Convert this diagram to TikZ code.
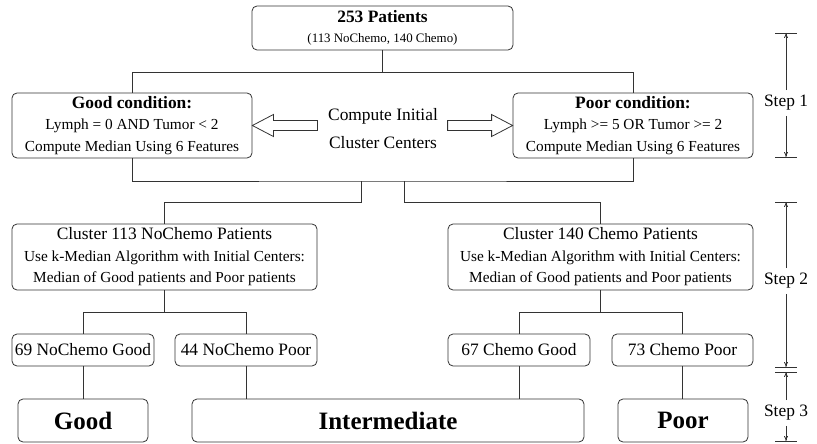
\documentclass[tikz,border=0pt]{standalone}
\usepackage{fontspec}
\setmainfont{Liberation Serif}
\usetikzlibrary{arrows.meta}

\begin{document}
\begin{tikzpicture}[x=1pt, y=-1pt,
    wire/.style={draw=black!80, line width=0.8pt},
    box/.style={wire, rounded corners=5pt, align=center, inner sep=0pt},
    big/.style={font=\fontsize{17.4}{21.5}\selectfont},
    small/.style={font=\fontsize{15.3}{21.5}\selectfont},
    huge/.style={font=\fontsize{25}{28}\selectfont\bfseries},
    tip/.style={-{To[length=5pt,width=4pt]}}]
    \useasboundingbox (0,0) rectangle (817,444);

    \node[box, minimum width=261, minimum height=44, big] (root) at (382.5,28)
        {\textbf{253 Patients}\\[-1pt]{\fontsize{12.9}{14}\selectfont (113 NoChemo, 140 Chemo)}};
    \node[box, minimum width=240, minimum height=65, small] (good) at (132,125.5)
        {{\fontsize{17.4}{20}\selectfont\bfseries Good condition:}\\ Lymph = 0 AND Tumor < 2\\ Compute Median Using 6 Features};
    \node[box, minimum width=240, minimum height=65, small] (poor) at (633,125.5)
        {{\fontsize{17.4}{20}\selectfont\bfseries Poor condition:}\\ Lymph >= 5 OR Tumor >= 2\\ Compute Median Using 6 Features};
    \node[align=center, font=\fontsize{17.4}{28}\selectfont] (init) at (383,129)
        {Compute Initial\\ Cluster Centers};

    \node[box, minimum width=305, minimum height=66, small] (cluL) at (164.5,257)
        {{\fontsize{17.4}{20}\selectfont Cluster 113 NoChemo Patients}\\ Use k-Median Algorithm with Initial Centers:\\ Median of Good patients and Poor patients};
    \node[box, minimum width=305, minimum height=66, small] (cluR) at (600.5,257)
        {{\fontsize{17.4}{20}\selectfont Cluster 140 Chemo Patients}\\ Use k-Median Algorithm with Initial Centers:\\ Median of Good patients and Poor patients};

    \node[box, minimum width=142, minimum height=32, big] (ncg) at (83,350) {69 NoChemo Good};
    \node[box, minimum width=142, minimum height=32, big] (ncp) at (246,350) {44 NoChemo Poor};
    \node[box, minimum width=142, minimum height=32, big] (cg) at (519,350) {67 Chemo Good};
    \node[box, minimum width=141, minimum height=32, big] (cp) at (682.5,350) {73 Chemo Poor};

    \node[box, minimum width=130, minimum height=43, huge] (resgood) at (83,420.5) {Good};
    \node[box, minimum width=392, minimum height=43, huge] (resmid) at (388,420.5) {Intermediate};
    \node[box, minimum width=130, minimum height=43, huge] (respoor) at (683,420.5) {Poor};

    % hollow arrows
    \draw[wire] (good.east) -- ++(21,-11) -- ++(0,6) -- ++(44,0) -- ++(0,10) -- ++(-44,0) -- ++(0,6) -- cycle;
    \draw[wire] (poor.west) -- ++(-21,-11) -- ++(0,6) -- ++(-44,0) -- ++(0,10) -- ++(44,0) -- ++(0,6) -- cycle;

    % tree
    \draw[wire] (root.south) -- ++(0,22) coordinate (bus1);
    \draw[wire] (good.north) |- (bus1) -| (poor.north);
    \coordinate (bus2) at (382.5,181);
    \draw[wire] (good.south) |- (bus2) -| (poor.south);
    \coordinate (splitL) at (361,181);
    \coordinate (splitR) at (404,181);
    \draw[wire] (splitL) -- ++(0,21) -| (cluL.north);
    \draw[wire] (splitR) -- ++(0,21) -| (cluR.north);
    \draw[wire] (cluL.south) -- ++(0,22) coordinate (forkL);
    \draw[wire] (ncg.north) |- (forkL) -| (ncp.north);
    \draw[wire] (cluR.south) -- ++(0,22) coordinate (forkR);
    \draw[wire] (cg.north) |- (forkR) -| (cp.north);
    \draw[wire] (ncg.south) -- (resgood.north);
    \draw[wire] (ncp.south) -- (ncp.south |- resmid.north);
    \draw[wire] (cg.south) -- (cg.south |- resmid.north);
    \draw[wire] (cp.south) -- (cp.south |- respoor.north);

    % steps
    \foreach \n/\a/\m/\b in {1/33/103/157, 2/202/281/367, 3/372/413/441} {
        \node[big, inner sep=5pt] (step\n) at (786,\m) {Step \n};
        \draw[wire] (775,\a) -- (797,\a);
        \draw[wire] (775,\b) -- (797,\b);
        \draw[wire, tip] (step\n.north) -- (786,\a);
        \draw[wire, tip] (step\n.south) -- (786,\b);
    }
\end{tikzpicture}
\end{document}
